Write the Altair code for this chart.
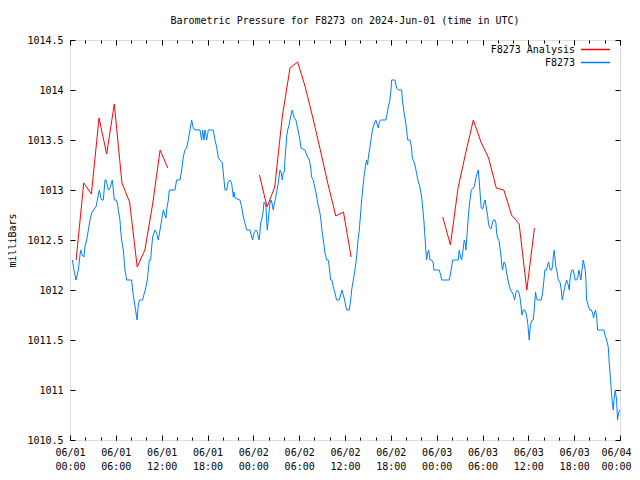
import altair as alt
import pandas as pd

# ---- data (hours since 2024-06-01 00:00 UTC, hPa) ----
f8273_day1 = [
    (0.31, 1012.3), (0.52, 1012.2), (0.79, 1012.1), (1.09, 1012.2), (1.31, 1012.35), (1.40, 1012.4),
    (1.61, 1012.35), (1.83, 1012.33), (1.96, 1012.43), (2.18, 1012.5), (2.40, 1012.6), (2.62, 1012.7),
    (2.84, 1012.77), (3.05, 1012.8), (3.40, 1012.83), (3.58, 1012.9), (3.84, 1013.0), (4.01, 1012.93),
    (4.14, 1012.9), (4.36, 1012.9), (4.58, 1013.1), (4.71, 1013.1), (5.02, 1013.0), (5.24, 1013.02),
    (5.54, 1013.1), (5.67, 1013.0), (5.80, 1012.9), (6.02, 1012.9), (6.20, 1012.87), (6.33, 1012.8),
    (6.54, 1012.7), (6.63, 1012.6), (6.76, 1012.5), (6.98, 1012.4), (7.20, 1012.2), (7.42, 1012.1),
    (8.07, 1012.1), (8.20, 1012.0), (8.38, 1011.9), (8.64, 1011.77), (8.77, 1011.7), (8.94, 1011.85),
    (9.08, 1011.9), (9.51, 1011.9), (9.73, 1011.97), (9.86, 1012.0), (10.12, 1012.1), (10.25, 1012.2),
    (10.38, 1012.3), (10.56, 1012.3), (10.69, 1012.43), (10.82, 1012.53), (11.13, 1012.6), (11.34, 1012.57),
    (11.56, 1012.5), (11.78, 1012.6), (12.00, 1012.7), (12.22, 1012.8), (12.43, 1012.75), (12.57, 1012.72),
    (12.65, 1012.8), (12.87, 1012.9), (13.00, 1013.0), (13.74, 1013.0), (13.96, 1013.1), (14.40, 1013.1),
    (14.62, 1013.2), (14.83, 1013.33), (15.05, 1013.4), (15.27, 1013.42), (15.49, 1013.5), (15.71, 1013.6),
    (15.92, 1013.7), (16.14, 1013.62), (16.36, 1013.6), (17.02, 1013.6), (17.23, 1013.5), (17.36, 1013.6),
    (17.54, 1013.5), (17.67, 1013.6), (17.89, 1013.5), (18.11, 1013.6), (18.76, 1013.6), (18.98, 1013.5),
    (19.20, 1013.43), (19.42, 1013.32), (19.63, 1013.3), (19.94, 1013.27), (20.07, 1013.17), (20.29, 1013.0),
    (20.51, 1013.0), (20.72, 1013.08), (20.94, 1013.1), (21.16, 1013.07), (21.38, 1012.93), (21.47, 1012.98),
    (21.60, 1012.92), (22.25, 1012.9), (22.47, 1012.83), (22.69, 1012.73), (22.90, 1012.67), (23.12, 1012.6),
    (23.56, 1012.6), (23.78, 1012.53), (23.91, 1012.5),
]
f8273_day2 = [
    (24.08, 1012.57), (24.35, 1012.6), (24.52, 1012.58), (24.65, 1012.53), (24.78, 1012.5), (24.96, 1012.67),
    (25.09, 1012.7), (25.31, 1012.8), (25.39, 1012.88), (25.52, 1012.87), (25.65, 1012.83), (25.74, 1012.7),
    (25.83, 1012.6), (25.96, 1012.7), (26.09, 1012.8), (26.18, 1012.87), (26.31, 1012.9), (26.44, 1012.87),
    (26.61, 1012.8), (26.74, 1012.87), (26.87, 1012.9), (27.05, 1012.98), (27.18, 1013.03), (27.31, 1013.1),
    (27.49, 1013.2), (27.66, 1013.17), (27.79, 1013.1), (27.92, 1013.17), (28.05, 1013.18), (28.14, 1013.3),
    (28.27, 1013.43), (28.36, 1013.53), (28.49, 1013.6), (28.62, 1013.63), (28.80, 1013.7), (28.93, 1013.75),
    (29.10, 1013.8), (29.23, 1013.75), (29.36, 1013.72), (29.58, 1013.7), (29.76, 1013.63), (29.93, 1013.57),
    (30.10, 1013.5), (30.24, 1013.42), (30.76, 1013.4), (30.98, 1013.35), (31.20, 1013.32), (31.33, 1013.3),
    (31.50, 1013.23), (31.63, 1013.13), (31.85, 1013.1), (32.02, 1013.03), (32.20, 1012.98), (32.29, 1012.93),
    (32.42, 1012.87), (32.55, 1012.83), (32.72, 1012.77), (32.85, 1012.7), (32.98, 1012.6), (33.16, 1012.5),
    (33.38, 1012.37), (33.60, 1012.3), (33.81, 1012.3), (33.94, 1012.23), (34.12, 1012.1), (34.29, 1012.1),
    (34.47, 1012.03), (34.69, 1011.97), (34.90, 1011.9), (35.25, 1011.9), (35.43, 1011.95), (35.60, 1012.0),
    (35.78, 1011.95), (35.95, 1011.9), (36.13, 1011.83), (36.21, 1011.8), (36.56, 1011.8), (36.74, 1011.9),
    (36.87, 1012.0), (37.09, 1012.1), (37.30, 1012.2), (37.52, 1012.33), (37.70, 1012.5), (37.87, 1012.6),
    (38.05, 1012.77), (38.18, 1012.9), (38.31, 1013.0), (38.48, 1013.13), (38.61, 1013.2), (38.74, 1013.27),
    (38.83, 1013.3), (38.96, 1013.25), (39.09, 1013.35), (39.27, 1013.43), (39.40, 1013.5), (39.53, 1013.57),
    (39.70, 1013.63), (39.92, 1013.68), (40.05, 1013.7), (40.23, 1013.65), (40.36, 1013.62), (40.49, 1013.68),
    (40.66, 1013.7), (41.36, 1013.7), (41.49, 1013.75), (41.67, 1013.83), (41.88, 1013.9), (42.02, 1014.0),
    (42.10, 1014.1), (42.54, 1014.1), (42.76, 1014.02), (42.98, 1014.0), (43.41, 1014.0), (43.54, 1013.88),
    (43.72, 1013.78), (43.89, 1013.7), (44.07, 1013.6), (44.20, 1013.5), (44.50, 1013.5), (44.72, 1013.42),
    (44.81, 1013.32), (44.94, 1013.3), (45.16, 1013.25), (45.29, 1013.2), (45.46, 1013.13), (45.64, 1013.07),
    (45.81, 1013.03), (46.03, 1012.93), (46.16, 1012.83), (46.34, 1012.68), (46.47, 1012.53), (46.60, 1012.37),
    (46.68, 1012.3), (46.82, 1012.37), (46.95, 1012.4), (47.12, 1012.3), (47.34, 1012.3), (47.56, 1012.27),
    (47.64, 1012.2),
]
f8273_day3 = [
    (48.34, 1012.2), (48.52, 1012.15), (48.65, 1012.1), (49.65, 1012.1), (49.83, 1012.17), (49.96, 1012.23),
    (50.09, 1012.3), (50.83, 1012.3), (50.96, 1012.4), (51.13, 1012.33), (51.27, 1012.3), (51.40, 1012.37),
    (51.53, 1012.45), (51.61, 1012.5), (51.74, 1012.47), (51.83, 1012.4), (51.92, 1012.5), (52.05, 1012.63),
    (52.18, 1012.77), (52.36, 1012.9), (52.53, 1013.0), (52.88, 1013.03), (53.01, 1013.07), (53.14, 1013.12),
    (53.32, 1013.17), (53.45, 1013.2), (53.53, 1013.13), (53.66, 1013.0), (53.75, 1012.9), (53.84, 1012.82),
    (54.01, 1012.81), (54.10, 1012.83), (54.23, 1012.88), (54.36, 1012.9), (54.45, 1012.85), (54.54, 1012.8),
    (54.67, 1012.75), (54.76, 1012.68), (54.89, 1012.63), (55.10, 1012.61), (55.24, 1012.65), (55.41, 1012.7),
    (55.63, 1012.7), (55.76, 1012.67), (55.85, 1012.57), (55.98, 1012.52), (56.15, 1012.5), (56.28, 1012.43),
    (56.41, 1012.35), (56.54, 1012.23), (56.63, 1012.2), (56.81, 1012.28), (56.94, 1012.27), (57.07, 1012.22),
    (57.16, 1012.17), (57.29, 1012.12), (57.42, 1012.07), (57.59, 1012.02), (57.68, 1012.0), (57.85, 1011.98),
    (58.03, 1011.95), (58.20, 1011.9), (58.38, 1011.98), (58.55, 1012.0), (58.73, 1011.98), (58.90, 1011.93),
    (59.03, 1011.85), (59.16, 1011.75), (59.34, 1011.8), (59.55, 1011.8), (59.69, 1011.77), (59.82, 1011.72),
    (59.95, 1011.65), (60.03, 1011.57), (60.12, 1011.5), (60.21, 1011.6), (60.34, 1011.67), (60.51, 1011.7),
    (60.64, 1011.7), (60.77, 1011.8), (60.86, 1011.9), (60.95, 1011.98), (61.04, 1011.93), (61.17, 1011.9),
    (61.69, 1011.9), (61.87, 1011.97), (62.04, 1012.1), (62.17, 1012.2), (62.39, 1012.2), (62.52, 1012.25),
    (62.65, 1012.28), (62.74, 1012.25), (62.87, 1012.2), (63.05, 1012.2), (63.18, 1012.25), (63.26, 1012.33),
    (63.39, 1012.4), (63.48, 1012.33), (63.61, 1012.23), (63.79, 1012.17), (63.92, 1012.1), (64.14, 1012.08),
    (64.31, 1012.0), (64.44, 1011.9), (64.57, 1011.95), (64.70, 1012.0), (64.83, 1012.05), (65.01, 1012.1),
    (65.23, 1012.05), (65.36, 1012.0), (65.45, 1012.1), (65.58, 1012.17), (65.71, 1012.2), (65.88, 1012.2),
    (66.01, 1012.15), (66.14, 1012.1), (66.32, 1012.1), (66.49, 1012.13), (66.62, 1012.2), (66.75, 1012.15),
    (66.88, 1012.1), (67.02, 1012.2), (67.19, 1012.3), (67.32, 1012.25), (67.45, 1012.2), (67.54, 1012.1),
    (67.63, 1011.9), (67.76, 1011.87), (67.89, 1011.83), (68.06, 1011.8), (68.24, 1011.8), (68.41, 1011.77),
    (68.54, 1011.72), (68.67, 1011.77), (68.80, 1011.8), (68.94, 1011.73), (69.07, 1011.6), (69.90, 1011.6),
    (70.03, 1011.55), (70.25, 1011.5), (70.46, 1011.43), (70.59, 1011.27), (70.77, 1011.1), (70.90, 1010.95),
    (71.03, 1010.85), (71.12, 1010.8), (71.25, 1010.93), (71.38, 1011.0), (71.55, 1010.9), (71.68, 1010.7),
    (71.81, 1010.77), (71.99, 1010.8),
]

analysis_seg1 = [(0.8, 1012.30), (1.8, 1013.07), (2.8, 1012.96), (3.8, 1013.72), (4.8, 1013.36),
                 (5.8, 1013.86), (6.8, 1013.07), (7.8, 1012.88), (8.8, 1012.23), (9.8, 1012.40),
                 (10.8, 1012.85), (11.8, 1013.40), (12.8, 1013.22)]
analysis_seg2 = [(24.8, 1013.15), (25.8, 1012.83), (26.8, 1013.03), (27.8, 1013.74), (28.8, 1014.22),
                 (29.8, 1014.28), (30.8, 1014.03), (31.8, 1013.72), (32.8, 1013.39), (33.8, 1013.05),
                 (34.8, 1012.74), (35.8, 1012.78), (36.8, 1012.33)]
analysis_seg3 = [(48.8, 1012.73), (49.8, 1012.45), (50.8, 1013.02), (51.8, 1013.37), (52.8, 1013.70),
                 (53.8, 1013.48), (54.8, 1013.32), (55.8, 1013.02), (56.8, 1013.00), (57.8, 1012.75),
                 (58.8, 1012.66), (59.8, 1012.00), (60.8, 1012.62)]

series_names = ["F8273 Analysis", "F8273"]
series_colors = ["#ff0000", "#0080ff"]
x_major_ticks = list(range(0, 73, 6))
x_minor_ticks = list(range(0, 73, 2))
y_ticks = [1010.5, 1011.0, 1011.5, 1012.0, 1012.5, 1013.0, 1013.5, 1014.0, 1014.5]

# ---- tables ----
obs = pd.DataFrame(f8273_day1 + f8273_day2 + f8273_day3, columns=["h", "p"])
obs["series"] = series_names[1]
ana_parts = []
for i, seg in enumerate([analysis_seg1, analysis_seg2, analysis_seg3]):
    d = pd.DataFrame(seg, columns=["h", "p"])
    d["seg"] = i
    ana_parts.append(d)
ana = pd.concat(ana_parts, ignore_index=True)
ana["series"] = series_names[0]

FONT = "DejaVu Sans Mono"
FS = 10

xs = alt.Scale(domain=[0, 72], nice=False, zero=False)
ys = alt.Scale(domain=[1010.5, 1014.5], nice=False, zero=False)

label_expr = ("['06/0' + (floor(datum.value/24)+1), "
              "(datum.value % 24 < 10 ? '0' : '') + (datum.value % 24) + ':00']")

color = alt.Color("series:N", scale=alt.Scale(domain=series_names, range=series_colors), legend=None)


def xaxis(orient, values, size, labels):
    kw = dict(orient=orient, values=values, tickSize=size, offset=-size, domain=False,
              grid=False, tickColor="black", tickWidth=1, title=None, labels=labels)
    if labels:
        kw.update(labelExpr=label_expr, labelFont=FONT, labelFontSize=FS, labelColor="black",
                  labelPadding=7, labelLineHeight=14, labelBaseline="top",
                  labelFlush=False, labelOverlap=False,
                  labelOffset={"condition": {"test": "datum.value == 72", "value": -4}, "value": 0})
    return alt.Axis(**kw)


y_left = alt.Axis(orient="left", values=y_ticks, tickSize=5, offset=-5, domain=False, grid=False,
                  tickColor="black", format="~f", labelFont=FONT, labelFontSize=FS,
                  labelColor="black", labelPadding=7, title="milliBars", titleFont=FONT,
                  titleFontSize=FS, titleFontWeight="normal", titleColor="black", titlePadding=9)
y_right = alt.Axis(orient="right", values=y_ticks, tickSize=5, offset=-5, domain=False, grid=False,
                   tickColor="black", labels=False, title=None)

obs_line = alt.Chart(obs).mark_line(strokeWidth=1).encode(
    x=alt.X("h:Q", scale=xs, axis=xaxis("bottom", x_major_ticks, 5, True)),
    y=alt.Y("p:Q", scale=ys, axis=y_left),
    color=color,
)
ana_line = alt.Chart(ana).mark_line(strokeWidth=1).encode(
    x=alt.X("h:Q", scale=xs, axis=xaxis("bottom", x_minor_ticks, 3, False)),
    y=alt.Y("p:Q", scale=ys, axis=y_right),
    color=color,
    detail="seg:N",
)
top_major = alt.Chart(obs).mark_line(strokeOpacity=0).encode(
    x=alt.X("h:Q", scale=xs, axis=xaxis("top", x_major_ticks, 5, False)),
    y=alt.Y("p:Q", scale=ys, axis=None),
)
top_minor = alt.Chart(obs).mark_line(strokeOpacity=0).encode(
    x=alt.X("h:Q", scale=xs, axis=xaxis("top", x_minor_ticks, 3, False)),
    y=alt.Y("p:Q", scale=ys, axis=None),
)

# ---- key (gnuplot style: text right-aligned, sample line to its right) ----
key_layers = []
for i, (name, col) in enumerate(zip(series_names, series_colors)):
    row_y = 9.5 + i * 13
    one = pd.DataFrame({"series": [name]})
    key_layers.append(
        alt.Chart(one).mark_text(align="right", baseline="middle", font=FONT, fontSize=FS,
                                 color="black").encode(
            text="series:N", x=alt.value(505), y=alt.value(row_y))
    )
    key_layers.append(
        alt.Chart(one).mark_rule(strokeWidth=1.5, color=col).encode(
            x=alt.value(511), x2=alt.value(540), y=alt.value(row_y))
    )

chart = (
    alt.layer(ana_line, obs_line, top_major, top_minor, *key_layers)
    .resolve_axis(x="independent", y="independent")
    .properties(
        width=550, height=400,
        title=alt.Title("Barometric Pressure for F8273 on 2024-Jun-01 (time in UTC)",
                        font=FONT, fontSize=FS, fontWeight="normal", color="black",
                        anchor="middle", baseline="alphabetic", offset=1),
        autosize=alt.AutoSizeParams(type="none"),
        padding={"left": 62, "top": 32, "right": 12, "bottom": 34},
    )
    .configure_view(stroke="black", strokeWidth=1)
    .configure(background="white")
)

chart.save("out.html", embed_options={"renderer": "svg", "actions": False})
